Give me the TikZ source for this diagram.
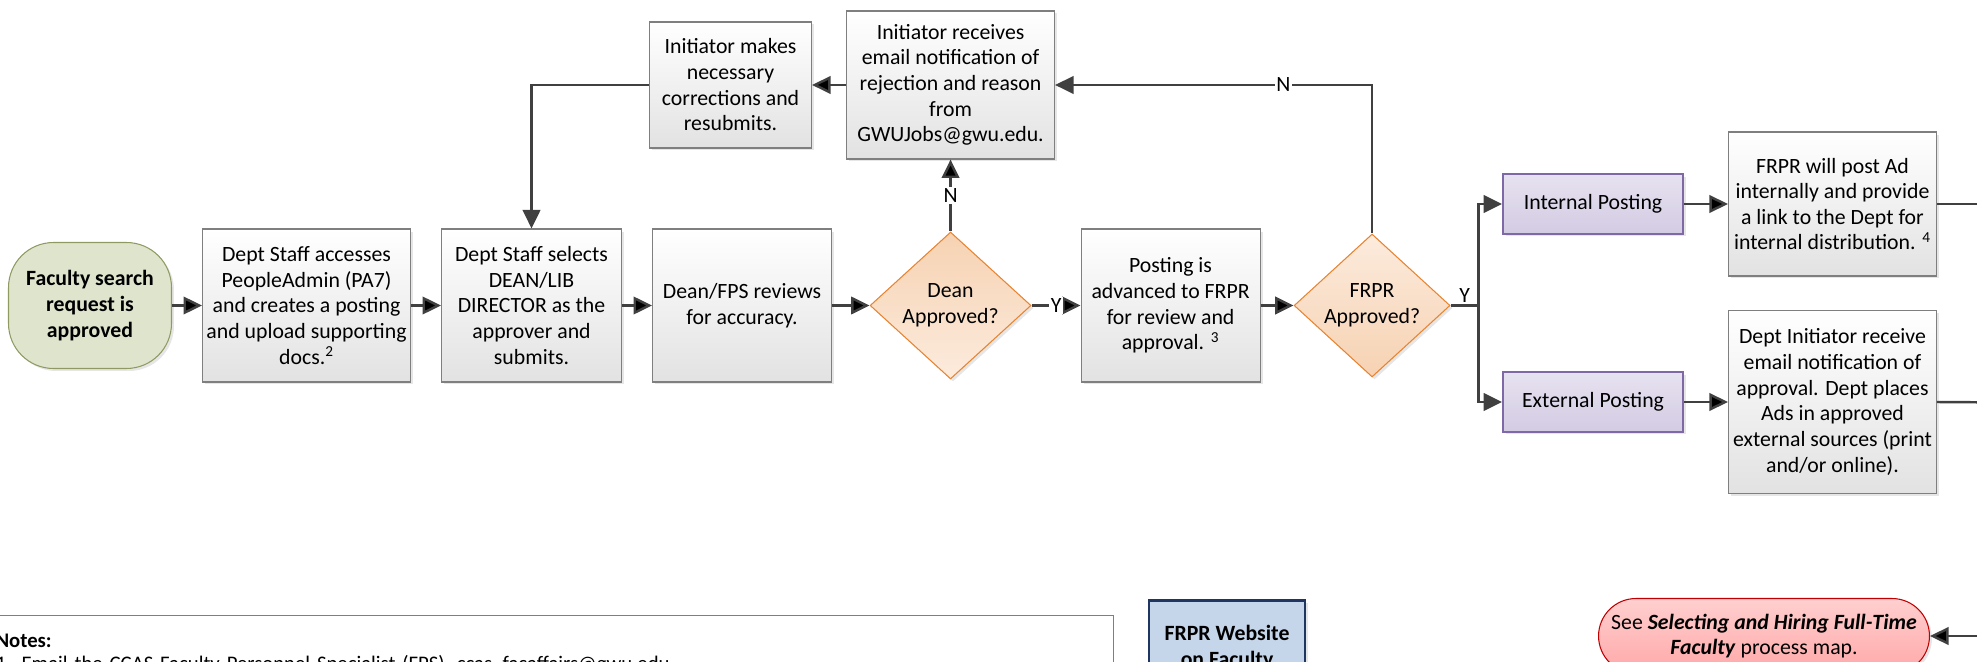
\documentclass[tikz,border=0pt]{standalone}
\usepackage{fontspec}
\setmainfont{Carlito}
\usepackage{tikz}
\usetikzlibrary{ arrows.meta, calc, positioning, shapes.geometric, shadows }
\definecolor{flowgray}{HTML}{404040}
\definecolor{boxline}{HTML}{7F7F7F}
\definecolor{boxbottom}{HTML}{E2E2E2}
\definecolor{decline}{HTML}{E8832F}
\definecolor{decdark}{HTML}{F6D2B2}
\definecolor{declight}{HTML}{FCEBDD}
\definecolor{postline}{HTML}{7E68A6}
\definecolor{posttop}{HTML}{E7E2F0}
\definecolor{postbottom}{HTML}{D3CBE3}
\definecolor{startfill}{HTML}{DFE5CD}
\definecolor{startline}{HTML}{8E9A62}
\definecolor{webfill}{HTML}{C6D6EA}
\definecolor{webline}{HTML}{1F3660}
\definecolor{seetop}{HTML}{FFCFCF}
\definecolor{seebottom}{HTML}{FFA8A8}
\definecolor{seeline}{HTML}{C00000}
\tikzset{
>={Triangle[length=0.37cm, width=0.35cm]}, % filled arrow heads
node distance=0.6cm, % gap between the boxes of the main row
every node/.style={inner sep=1pt},
base/.style={font=\fontsize{12.4}{14.6}\selectfont, align=center, text=black},
shade/.style={drop shadow={shadow xshift=0.05cm, shadow yshift=-0.05cm, opacity=0.2}},
process/.style={base, shade, rectangle, draw=boxline, line width=0.6pt, top color=white, bottom color=boxbottom, minimum height=3.06cm},
decision/.style={base, shade, diamond, aspect=1.1, inner sep=0pt, draw=decline, line width=0.6pt},
posting/.style={base, shade, rectangle, draw=postline, line width=1.1pt, top color=posttop, bottom color=postbottom, minimum width=3.6cm, minimum height=1.2cm},
flow/.style={draw=flowgray, line width=1.4pt},
lbl/.style={base, fill=white, inner sep=1pt},
}

\begin{document}
\begin{tikzpicture}[x=0.02cm, y=-0.02cm]
  \useasboundingbox (0,0) rectangle (1977,662);
  \clip (0,0) rectangle (1977,662);

  % main row
  \node[base, shade, rectangle, rounded corners=0.9cm, draw=startline, line width=0.6pt, fill=startfill,
        minimum width=3.26cm, minimum height=2.52cm, font=\fontsize{12.4}{14.6}\selectfont\bfseries] (start) at (90,305.5)
        {Faculty search\\request is\\approved};
  \node[process, minimum width=4.16cm, right=of start] (access)
        {Dept Staff accesses\\PeopleAdmin (PA7)\\and creates a posting\\and upload supporting\\docs.\textsuperscript{2}};
  \node[process, minimum width=3.6cm, right=of access] (selects)
        {Dept Staff selects\\DEAN/LIB\\DIRECTOR as the\\approver and\\submits.};
  \node[process, minimum width=3.58cm, right=of selects] (review)
        {Dean/FPS reviews\\for accuracy.};
  \node[decision, top color=decdark, bottom color=declight, minimum width=3.22cm, minimum height=2.94cm,
        right=0.75cm of review] (deanq) {Dean\\Approved?};
  \node[process, minimum width=3.58cm, right=0.98cm of deanq] (advance)
        {Posting is\\advanced to FRPR\\for review and\\approval. \textsuperscript{3}};
  \node[decision, top color=declight, bottom color=decdark, minimum width=3.12cm, minimum height=2.86cm,
        right=0.66cm of advance] (frprq) {FRPR\\Approved?};

  % rejection loop
  \node[process, minimum width=4.16cm, minimum height=2.96cm, above=1.44cm of deanq] (reject)
        {Initiator receives\\email notification of\\rejection and reason\\from\\GWUJobs@gwu.edu.};
  \node[process, minimum width=3.24cm, minimum height=2.52cm, left=0.68cm of reject] (fix)
        {Initiator makes\\necessary\\corrections and\\resubmits.};

  % postings
  \coordinate (fork) at ($(frprq.east)+(0.56cm,0)$);
  \node[posting] (internal) at (1593,204) {Internal Posting};
  \node[posting] (external) at (1593,402) {External Posting};
  \node[process, minimum width=4.16cm, minimum height=2.88cm, right=0.88cm of internal] (intpost)
        {FRPR will post Ad\\internally and provide\\a link to the Dept for\\internal distribution. \textsuperscript{4}};
  \node[process, minimum width=4.16cm, minimum height=3.66cm, right=0.88cm of external] (extpost)
        {Dept Initiator receive\\email notification of\\approval. Dept places\\Ads in approved\\external sources (print\\and/or online).};

  % bottom strip
  \node[rectangle, draw=boxline, line width=0.6pt, anchor=north west, align=left, text=black,
        font=\fontsize{11.8}{13.2}\selectfont, text width=21.86cm, minimum height=3cm,
        inner xsep=0.5cm, inner ysep=0.14cm, text depth=2cm] (notes) at (-30,615)
        {\textbf{Notes:}\\1. Email the CCAS Faculty Personnel Specialist (FPS), ccas\_facaffairs@gwu.edu};
  \node[base, shade, rectangle, draw=webline, line width=1.5pt, fill=webfill, anchor=north,
        minimum width=3.12cm, inner ysep=0.5cm, font=\fontsize{12.4}{14.6}\selectfont\bfseries] (website) at (1227,599)
        {FRPR Website\\on Faculty};
  \node[base, shade, rectangle, rounded corners=0.75cm, draw=seeline, line width=0.6pt, top color=seetop,
        bottom color=seebottom, minimum width=6.62cm, minimum height=1.5cm] (see) at (1764,636)
        {See \textbf{\textit{Selecting and Hiring Full-Time}}\\\textbf{\textit{Faculty}} process map.};

  \coordinate (offint) at (2010,204);
  \coordinate (offext) at (2010,402.5);
  \coordinate (offsee) at (2010,636);

  \path[->, flow]
  (start) edge (access)
  (access) edge (selects)
  (selects) edge (review)
  (review) edge (deanq)
  (deanq) edge node[lbl]{Y} (advance)
  (advance) edge (frprq)
  (deanq) edge node[lbl]{N} (reject)
  (reject) edge (fix)
  (internal) edge (intpost)
  (external) edge (extpost)
  (offsee) edge (see.east);
  \draw[->, flow] (fix.west) -| (selects.north);
  \draw[->, flow] (frprq.north) |- node[lbl, pos=0.64]{N} (reject.east);
  \draw[flow] (frprq.east) -- node[base, above]{Y} (fork);
  \draw[->, flow] (fork) |- (internal.west);
  \draw[->, flow] (fork) |- (external.west);
  \draw[flow] (intpost.east) -- (offint);
  \draw[flow] (extpost.east) -- (offext);
\end{tikzpicture}
\end{document}
